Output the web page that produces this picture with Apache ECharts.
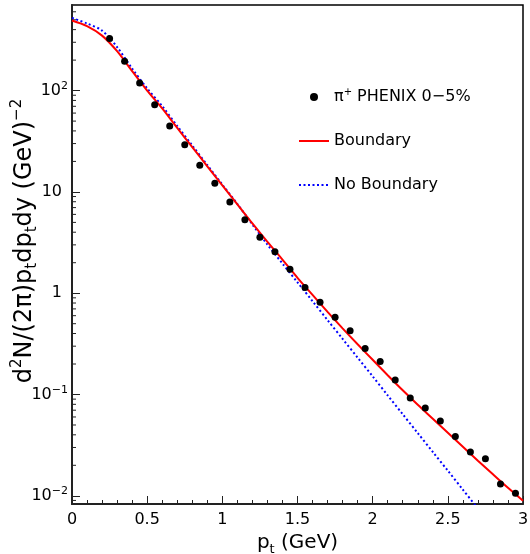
<!DOCTYPE html>
<html>
<head>
<meta charset="utf-8">
<script src="https://cdn.jsdelivr.net/npm/echarts@6/dist/echarts.min.js"></script>
<style>
html, body { margin: 0; padding: 0; background: #fff; }
#chart { width: 530px; height: 554px; }
</style>
</head>
<body>
<div id="chart"></div>
<script>
// PHENIX pi+ 0-5% points
const ptPoints = [0.25, 0.35, 0.45, 0.55, 0.65, 0.75, 0.85, 0.95, 1.05, 1.15, 1.25, 1.35, 1.45, 1.55,
    1.65, 1.75, 1.85, 1.95, 2.05, 2.15, 2.25, 2.35, 2.45, 2.55, 2.65, 2.75, 2.85, 2.95];
const phenixYield = [327, 195, 119, 72.4, 44.7, 29.2, 18.3, 12.2, 7.95, 5.32, 3.57, 2.57, 1.72, 1.14,
    0.815, 0.58, 0.425, 0.284, 0.212, 0.139, 0.0922, 0.0734, 0.0547, 0.0385, 0.027, 0.0232, 0.0131, 0.0106];

// model curves
const ptCurve = [0, 0.1, 0.2, 0.3, 0.4, 0.5, 0.6, 0.7, 0.8, 0.9, 1.0, 1.1, 1.2, 1.3, 1.4, 1.5,
    1.6, 1.7, 1.8, 1.9, 2.0, 2.1, 2.2, 2.3, 2.4, 2.5, 2.6, 2.7, 2.8, 2.9, 3.0];
const boundaryYield = [492, 433, 349, 245, 156, 100, 66.6, 42.8, 27.7, 17.9, 11.6, 7.53, 4.88, 3.21, 2.15, 1.42,
    0.962, 0.654, 0.450, 0.313, 0.220, 0.155, 0.110, 0.0791, 0.0576, 0.0419, 0.0305, 0.0222, 0.0163, 0.0120, 0.00895];
const noBoundaryYield = [522, 460, 391, 269, 165, 105, 70.3, 44.7, 28.7, 18.4, 11.8, 7.60, 4.77, 3.02, 1.96, 1.28,
    0.834, 0.543, 0.354, 0.231, 0.151, 0.098, 0.0638, 0.0416, 0.0271, 0.0177, 0.0115, 0.0075];

const xTicks = ['0', '0.5', '1', '1.5', '2', '2.5', '3'];
const yTickLabels = {
    '100': '{b|10}{s|2}',
    '10': '{b|10}{p|}',
    '1': '{b|1}{p|}',
    '0.1': '{b|10}{s|−1}',
    '0.01': '{b|10}{s|−2}'
};
const yMinorTicks = [0.009, 0.02, 0.03, 0.04, 0.05, 0.06, 0.07, 0.08, 0.09,
    0.2, 0.3, 0.4, 0.5, 0.6, 0.7, 0.8, 0.9, 2, 3, 4, 5, 6, 7, 8, 9,
    20, 30, 40, 50, 60, 70, 80, 90, 200, 300, 400, 500, 600];

const piName = 'π+ PHENIX 0-5%';
const font = 'DejaVu Sans';
const axisColor = '#222';

const chart = echarts.init(document.getElementById('chart'));

const option = {
    animation: false,
    backgroundColor: '#fff',
    grid: {
        left: 72, right: 7, top: 5, bottom: 50,
        outerBoundsMode: 'none',
        containLabel: false,
        show: true, borderColor: '#000', borderWidth: 1.5
    },
    legend: {
        orient: 'vertical',
        left: 293,
        top: 82,
        itemWidth: 30,
        itemHeight: 8,
        itemGap: 28,
        selectedMode: false,
        data: [
            {name: piName, icon: 'circle'},
            {name: 'Boundary', itemStyle: {opacity: 0}},
            {name: 'No Boundary', itemStyle: {opacity: 0}}
        ],
        formatter: function (name) {
            if (name === piName) {
                return '{t|π}{s|+}{t| PHENIX 0−5%}';
            }
            return '{t|' + name + '}';
        },
        textStyle: {
            fontFamily: font, fontSize: 16, color: '#000',
            rich: {
                t: {fontFamily: font, fontSize: 16, lineHeight: 20, color: '#000'},
                s: {fontFamily: font, fontSize: 10, lineHeight: 12, verticalAlign: 'top', color: '#000'}
            }
        }
    },
    xAxis: {
        type: 'value',
        min: 0,
        max: 3,
        interval: 0.5,
        name: '{a|p}{sub|t}{a| (GeV)}',
        nameLocation: 'middle',
        nameGap: 24,
        nameTextStyle: {
            fontFamily: font, fontSize: 20, color: '#000',
            rich: {
                a: {fontFamily: font, fontSize: 20, lineHeight: 26, color: '#000'},
                sub: {fontFamily: font, fontSize: 13, lineHeight: 16, verticalAlign: 'bottom', color: '#000'}
            }
        },
        axisLine: {lineStyle: {color: axisColor, width: 2}},
        axisTick: {inside: true, length: 8, lineStyle: {color: axisColor}},
        minorTick: {show: true, splitNumber: 5, length: 4, lineStyle: {color: axisColor}},
        splitLine: {show: false},
        axisLabel: {
            margin: 8,
            fontFamily: font, fontSize: 16, color: '#000',
            formatter: function (v) {
                const i = Math.round(v / 0.5);
                return xTicks[i] !== undefined ? xTicks[i] : '';
            }
        }
    },
    yAxis: {
        type: 'log',
        logBase: 10,
        min: 0.0083,
        max: 700,
        name: '{a|d}{sup|2}{a|N/(2π)p}{sub|t}{a|dp}{sub|t}{a|dy (GeV)}{sup|−2}',
        nameLocation: 'middle',
        nameRotate: 90,
        nameGap: 32,
        nameMoveOverlap: false,
        nameTextStyle: {
            fontFamily: font, fontSize: 24, color: '#000',
            padding: [0, 0, 0, 27],
            rich: {
                a: {fontFamily: font, fontSize: 24, lineHeight: 30, color: '#000'},
                sup: {fontFamily: font, fontSize: 15, lineHeight: 16, verticalAlign: 'top', color: '#000'},
                sub: {fontFamily: font, fontSize: 15, lineHeight: 16, verticalAlign: 'bottom', color: '#000'}
            }
        },
        axisLine: {lineStyle: {color: axisColor, width: 2}},
        axisTick: {inside: true, length: 8, lineStyle: {color: axisColor}},
        splitLine: {show: false},
        axisLabel: {
            margin: 4,
            fontFamily: font, fontSize: 16, color: '#000',
            showMinLabel: false,
            showMaxLabel: false,
            formatter: function (v) {
                const key = String(Number(v.toPrecision(6)));
                return yTickLabels[key] || '';
            },
            rich: {
                b: {fontFamily: font, fontSize: 16, lineHeight: 20, color: '#000'},
                s: {fontFamily: font, fontSize: 11, lineHeight: 12, verticalAlign: 'top', color: '#000'},
                p: {width: 6}
            }
        }
    },
    series: [
        {
            // minor ticks on the log axis
            type: 'custom',
            silent: true,
            data: yMinorTicks.map(v => [0, v]),
            renderItem: function (params, api) {
                const p = api.coord([api.value(0), api.value(1)]);
                return {
                    type: 'line',
                    shape: {x1: p[0], y1: p[1], x2: p[0] + 4, y2: p[1]},
                    style: {stroke: axisColor, lineWidth: 1}
                };
            },
            z: 1
        },
        {
            name: 'No Boundary',
            type: 'line',
            data: ptCurve.slice(0, noBoundaryYield.length).map((x, i) => [x, noBoundaryYield[i]]),
            symbol: 'none',
            smooth: 0.3,
            clip: true,
            lineStyle: {color: '#0000ff', width: 2, type: [2, 2.5]},
            itemStyle: {color: '#0000ff'},
            z: 2
        },
        {
            name: 'Boundary',
            type: 'line',
            data: ptCurve.map((x, i) => [x, boundaryYield[i]]),
            symbol: 'none',
            smooth: 0.3,
            clip: true,
            lineStyle: {color: '#ff0000', width: 2},
            itemStyle: {color: '#ff0000'},
            z: 3
        },
        {
            name: piName,
            type: 'scatter',
            data: ptPoints.map((x, i) => [x, phenixYield[i]]),
            symbol: 'circle',
            symbolSize: 7,
            itemStyle: {color: '#000', opacity: 1},
            z: 4
        }
    ]
};

chart.setOption(option);
</script>
</body>
</html>
